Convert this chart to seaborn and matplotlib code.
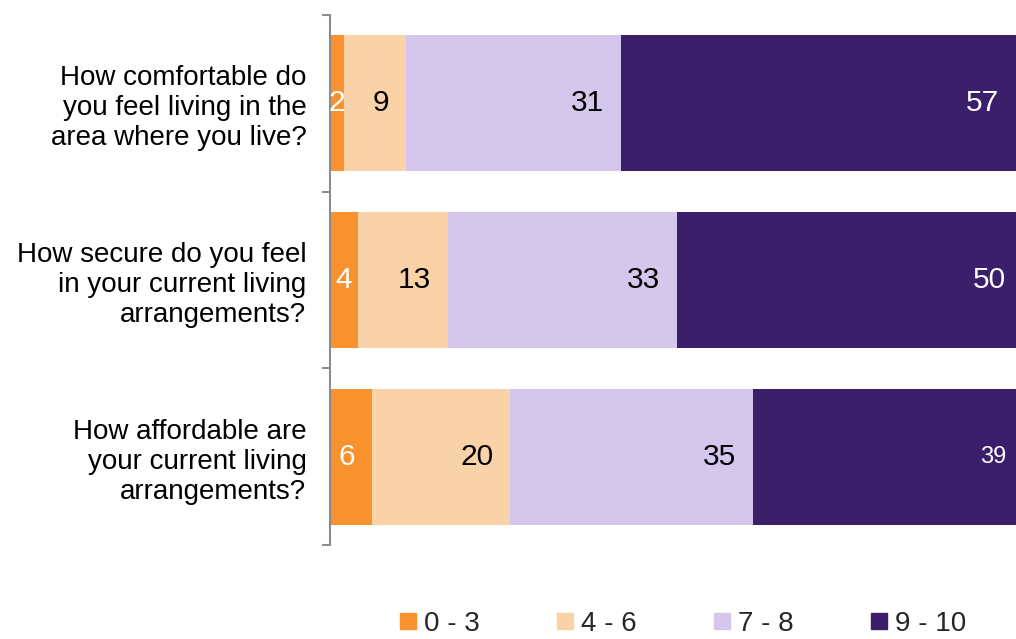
import matplotlib
matplotlib.use("Agg")
import matplotlib.pyplot as plt
from matplotlib.lines import Line2D
import numpy as np
import pandas as pd
import seaborn as sns

questions = [
    "How comfortable do\nyou feel living in the\narea where you live?",
    "How secure do you feel\nin your current living\narrangements?",
    "How affordable are\nyour current living\narrangements?",
]
bands = ["0 - 3", "4 - 6", "7 - 8", "9 - 10"]
low = [2, 4, 6]
mid = [9, 13, 20]
high = [31, 33, 35]
top = [57, 50, 39]

colors = ["#F7922E", "#F9D2A8", "#D5C6EC", "#3C1F6B"]
label_colors = ["white", "black", "black", "white"]

sns.set_theme(style="white")
plt.rcParams["font.family"] = ["Liberation Sans", "DejaVu Sans"]

series = [low, mid, high, top]
vals = np.array(series, dtype=float)
cum = np.cumsum(vals, axis=0)

fig = plt.figure(figsize=(10.16, 6.39), dpi=100)
ax = fig.add_axes([330 / 1016, 1 - 545 / 639, 693 / 1016, 530 / 639])

# stacked bars: draw cumulative totals from the widest down
for i in reversed(range(len(bands))):
    df = pd.DataFrame({"question": questions, "value": cum[i]})
    sns.barplot(
        data=df,
        x="value",
        y="question",
        orient="h",
        color=colors[i],
        saturation=1,
        width=0.77,
        linewidth=0,
        ax=ax,
    )

for i in range(len(bands)):
    for j in range(len(questions)):
        v = vals[i, j]
        end = cum[i, j]
        start = end - v
        fs = 21.5 if not (i == 3 and j == 2) else 17
        if v < 5:
            ax.text((start + end) / 2, j, f"{int(v)}", ha="center", va="center",
                    fontsize=fs, color=label_colors[i])
        else:
            ax.annotate(f"{int(v)}", (end, j), xytext=(-12, 0),
                        textcoords="offset points", ha="right", va="center",
                        fontsize=fs, color=label_colors[i])

ax.set_xlim(0, 100)
ax.set_ylim(2.5, -0.5)
ax.set_xlabel("")
ax.set_ylabel("")
ax.set_xticks([])
ax.set_yticks([0, 1, 2])
ax.set_yticklabels(questions, fontsize=20, ha="right")
ax.set_yticks([-0.5, 0.5, 1.5, 2.5], minor=True)
ax.tick_params(axis="y", which="major", length=0, pad=17, labelcolor="black")
ax.tick_params(axis="y", which="minor", length=6, width=1.5, color="#8C8C8C", left=True)

for s in ["top", "right", "bottom"]:
    ax.spines[s].set_visible(False)
ax.spines["left"].set_color("#8C8C8C")
ax.spines["left"].set_linewidth(1.5)

handles = [Line2D([], [], marker="s", linestyle="", markersize=11, color=c) for c in colors]
fig.legend(
    handles,
    bands,
    loc="center left",
    bbox_to_anchor=(400 / 1016, 1 - 624 / 639),
    ncol=4,
    frameon=False,
    fontsize=20,
    handlelength=0.55,
    handletextpad=0.3,
    columnspacing=2.8,
    borderpad=0,
    borderaxespad=0,
)

fig.savefig("out.png", dpi=100)
plt.close(fig)
